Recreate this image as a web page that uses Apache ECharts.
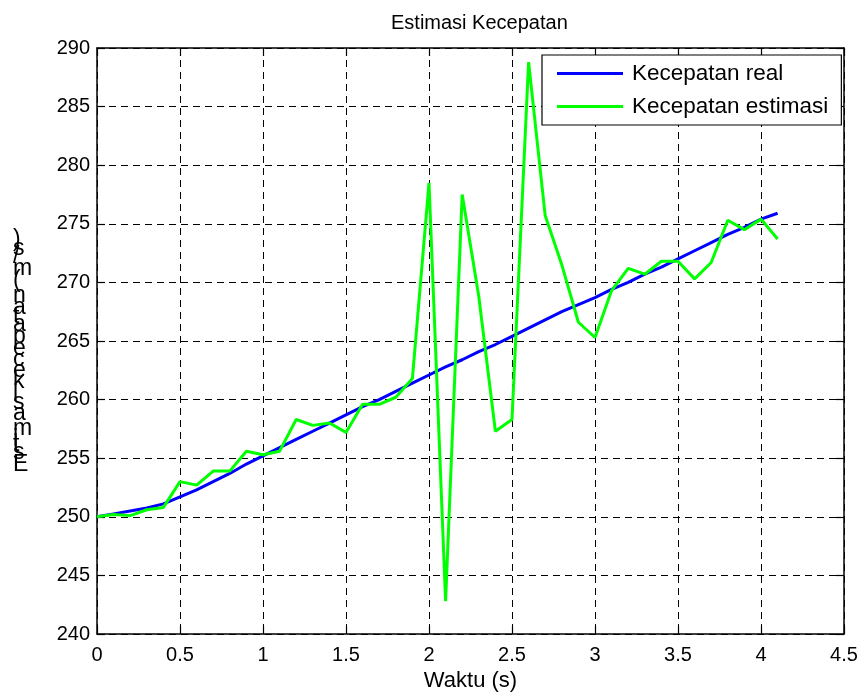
<!DOCTYPE html>
<html>
<head>
<meta charset="utf-8">
<script src="https://cdn.jsdelivr.net/npm/echarts@6/dist/echarts.min.js"></script>
<style>
  html, body { margin: 0; padding: 0; background: #ffffff; }
  #chart { width: 865px; height: 700px; }
</style>
</head>
<body>
<div id="chart"></div>
<script>
// Sample times (s)
const times = [0, 0.1, 0.2, 0.3, 0.4, 0.5, 0.6, 0.7, 0.8, 0.9,
               1.0, 1.1, 1.2, 1.3, 1.4, 1.5, 1.6, 1.7, 1.8, 1.9,
               2.0, 2.1, 2.2, 2.3, 2.4, 2.5, 2.6, 2.7, 2.8, 2.9,
               3.0, 3.1, 3.2, 3.3, 3.4, 3.5, 3.6, 3.7, 3.8, 3.9,
               4.0, 4.1];

// Real speed (m/s)
const realSpeed = [250.0, 250.25, 250.5, 250.75, 251.1, 251.7, 252.3, 253.0, 253.7, 254.5,
                   255.2, 255.9, 256.6, 257.3, 258.0, 258.7, 259.4, 260.0, 260.7, 261.4,
                   262.1, 262.8, 263.4, 264.1, 264.7, 265.4, 266.1, 266.8, 267.5, 268.1,
                   268.7, 269.4, 270.0, 270.7, 271.3, 272.0, 272.7, 273.4, 274.1, 274.7,
                   275.4, 275.9];

// Estimated speed (m/s)
const estSpeed = [250.0, 250.2, 250.1, 250.6, 250.8, 253.0, 252.7, 253.9, 253.9, 255.6,
                  255.3, 255.6, 258.3, 257.8, 258.0, 257.2, 259.6, 259.6, 260.2, 261.8,
                  278.5, 242.8, 277.5, 268.8, 257.3, 258.3, 288.8, 275.7, 271.5, 266.6,
                  265.3, 269.3, 271.2, 270.7, 271.8, 271.8, 270.3, 271.7, 275.3, 274.5,
                  275.4, 273.7];

const xTicks = { min: 0, max: 4.5, interval: 0.5 };
const yTicks = { min: 240, max: 290, interval: 5 };

const seriesNames = ['Kecepatan real', 'Kecepatan estimasi'];
const titleText = 'Estimasi Kecepatan';
const xLabel = 'Waktu (s)';
const yLabel = 'Estimasi kecepatan (m/s)';

const FONT = "'Liberation Sans', Arial, Helvetica, sans-serif";

const chart = echarts.init(document.getElementById('chart'), null, { renderer: 'canvas' });

// Vertical y label: upright characters stacked bottom-to-top,
// each one advanced by its own horizontal width (measured at advSize).
function stackedLabel(text, fontSize, advSize, left, bottom) {
  const ctx = document.createElement('canvas').getContext('2d');
  ctx.font = advSize + 'px ' + FONT;
  const out = [];
  let y = bottom;
  for (const ch of text) {
    const w = ctx.measureText(ch).width;
    if (ch !== ' ') {
      out.push({
        type: 'text',
        left: left,
        top: y - w / 2 - fontSize / 2,
        style: { text: ch, font: fontSize + 'px ' + FONT, fill: '#000', verticalAlign: 'top' }
      });
    }
    y -= w;
  }
  return out;
}

const pairs = (vals) => times.map((t, i) => [t, vals[i]]);

const frameAxis = {
  axisLine: { show: true, onZero: false, lineStyle: { color: '#000', width: 1.5 } },
  axisTick: { show: true, inside: true, length: 8, lineStyle: { color: '#000', width: 1.2 } },
  axisLabel: { show: false },
  splitLine: { show: false }
};

const option = {
  backgroundColor: '#ffffff',
  animation: false,
  title: {
    text: titleText,
    left: 386,
    top: 8,
    textStyle: { fontFamily: FONT, fontSize: 20, fontWeight: 'normal', color: '#000' }
  },
  grid: { left: 97, right: 21, top: 48, bottom: 66, containLabel: false },
  legend: {
    orient: 'vertical',
    left: 542,
    top: 55,
    padding: [7, 13, 7, 15],
    itemGap: 10,
    itemWidth: 66,
    itemHeight: 3,
    icon: 'rect',
    borderColor: '#000',
    borderWidth: 1.2,
    backgroundColor: '#ffffff',
    textStyle: { fontFamily: FONT, fontSize: 22.5, color: '#000', padding: [0, 0, 0, 4] },
    data: seriesNames
  },
  xAxis: [
    {
      type: 'value',
      position: 'bottom',
      min: xTicks.min, max: xTicks.max, interval: xTicks.interval,
      name: xLabel,
      nameLocation: 'middle',
      nameGap: 35,
      nameTextStyle: { fontFamily: FONT, fontSize: 22, color: '#000' },
      axisLine: { show: true, onZero: false, lineStyle: { color: '#000', width: 1.5 } },
      axisTick: { show: true, inside: true, length: 8, lineStyle: { color: '#000', width: 1.2 } },
      axisLabel: { fontFamily: FONT, fontSize: 20, color: '#000', margin: 11 },
      splitLine: { show: true, lineStyle: { color: '#000', width: 1, type: [7, 5] } }
    },
    Object.assign({ type: 'value', position: 'top', min: xTicks.min, max: xTicks.max, interval: xTicks.interval }, frameAxis)
  ],
  yAxis: [
    {
      type: 'value',
      position: 'left',
      min: yTicks.min, max: yTicks.max, interval: yTicks.interval,
      axisLine: { show: true, onZero: false, lineStyle: { color: '#000', width: 1.5 } },
      axisTick: { show: true, inside: true, length: 8, lineStyle: { color: '#000', width: 1.2 } },
      axisLabel: { fontFamily: FONT, fontSize: 20, color: '#000', margin: 7 },
      splitLine: { show: true, lineStyle: { color: '#000', width: 1, type: [7, 5] } }
    },
    Object.assign({ type: 'value', position: 'right', min: yTicks.min, max: yTicks.max, interval: yTicks.interval }, frameAxis)
  ],
  series: [
    {
      name: seriesNames[0],
      type: 'line',
      data: pairs(realSpeed),
      showSymbol: false,
      lineStyle: { color: '#0000ff', width: 3 },
      itemStyle: { color: '#0000ff' },
      z: 3
    },
    {
      name: seriesNames[1],
      type: 'line',
      data: pairs(estSpeed),
      showSymbol: false,
      lineStyle: { color: '#00ff00', width: 3 },
      itemStyle: { color: '#00ff00' },
      z: 4
    }
  ],
  graphic: stackedLabel(yLabel, 23, 21, 13, 472)
};

chart.setOption(option);
</script>
</body>
</html>
